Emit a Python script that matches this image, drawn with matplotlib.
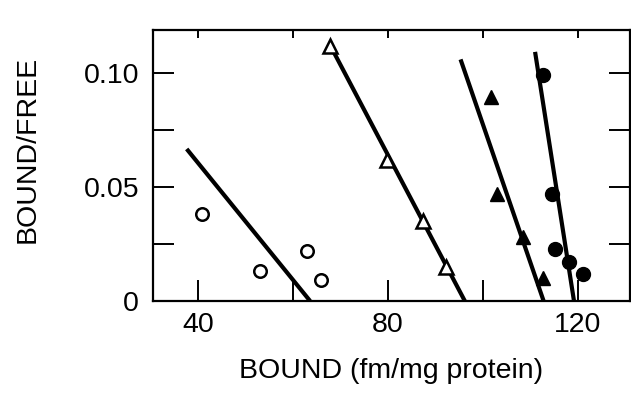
import numpy as np
import matplotlib.pyplot as plt

plt.rcParams['font.family'] = ['Liberation Sans', 'DejaVu Sans']

# open circles
oc_x = [40.8, 53.1, 62.9, 65.8]
oc_y = [0.038, 0.013, 0.022, 0.009]
oc_line_x = [37.6, 63.6]
oc_line_y = [0.0667, 0.0]

# open triangles
ot_x = [67.8, 79.8, 87.3, 92.2]
ot_y = [0.112, 0.062, 0.035, 0.015]
ot_line_x = [67.8, 96.2]
ot_line_y = [0.1123, 0.0]

# filled triangles
ft_x = [101.7, 102.9, 108.5, 112.6]
ft_y = [0.0896, 0.0469, 0.0282, 0.010]
ft_line_x = [95.3, 112.8]
ft_line_y = [0.106, 0.0]

# filled circles
fc_x = [112.7, 114.6, 115.2, 118.2, 121.0]
fc_y = [0.099, 0.047, 0.023, 0.017, 0.012]
fc_line_x = [111.0, 119.2]
fc_line_y = [0.1093, 0.0]

xticks = [40, 60, 80, 100, 120]
xlabels = ['40', '', '80', '', '120']
yticks = [0, 0.025, 0.05, 0.075, 0.10]
ylabels = ['0', '', '0.05', '', '0.10']

fig = plt.figure(figsize=(6.31, 3.99), dpi=100)
ax = fig.add_axes([153/631, 98/399, 477/631, 271/399])

lw = 3.0
for lx, ly in [(oc_line_x, oc_line_y), (ot_line_x, ot_line_y),
               (ft_line_x, ft_line_y), (fc_line_x, fc_line_y)]:
    ax.plot(lx, ly, color='black', lw=lw, solid_capstyle='butt', zorder=2)

ax.plot(oc_x, oc_y, 'o', ms=9, mfc='white', mec='black', mew=1.8, zorder=3)
ax.plot(ot_x, ot_y, '^', ms=10, mfc='white', mec='black', mew=1.8, zorder=3)
ax.plot(ft_x, ft_y, '^', ms=10, mfc='black', mec='black', zorder=3)
ax.plot(fc_x, fc_y, 'o', ms=10, mfc='black', mec='black', zorder=3)

ax.set_xlim(30.5, 131)
ax.set_ylim(0, 0.1189)
ax.set_xticks(xticks)
ax.set_xticklabels(xlabels)
ax.set_yticks(yticks)
ax.set_yticklabels(ylabels)

for s in ax.spines.values():
    s.set_linewidth(1.6)

ax.tick_params(axis='both', direction='in', length=15, width=1.4,
               labelsize=20.5, top=True, right=True)
ax.tick_params(axis='x', pad=8)
ax.tick_params(axis='y', pad=10)
for t in ax.xaxis.get_major_ticks():
    t.tick2line.set_markersize(6)

ax.set_xlabel('BOUND (fm/mg protein)', fontsize=20.5, labelpad=14)
ax.set_ylabel('BOUND/FREE', fontsize=20.5)
ax.yaxis.set_label_coords(-0.236, 0.56)

fig.savefig('out.png', dpi=100)
